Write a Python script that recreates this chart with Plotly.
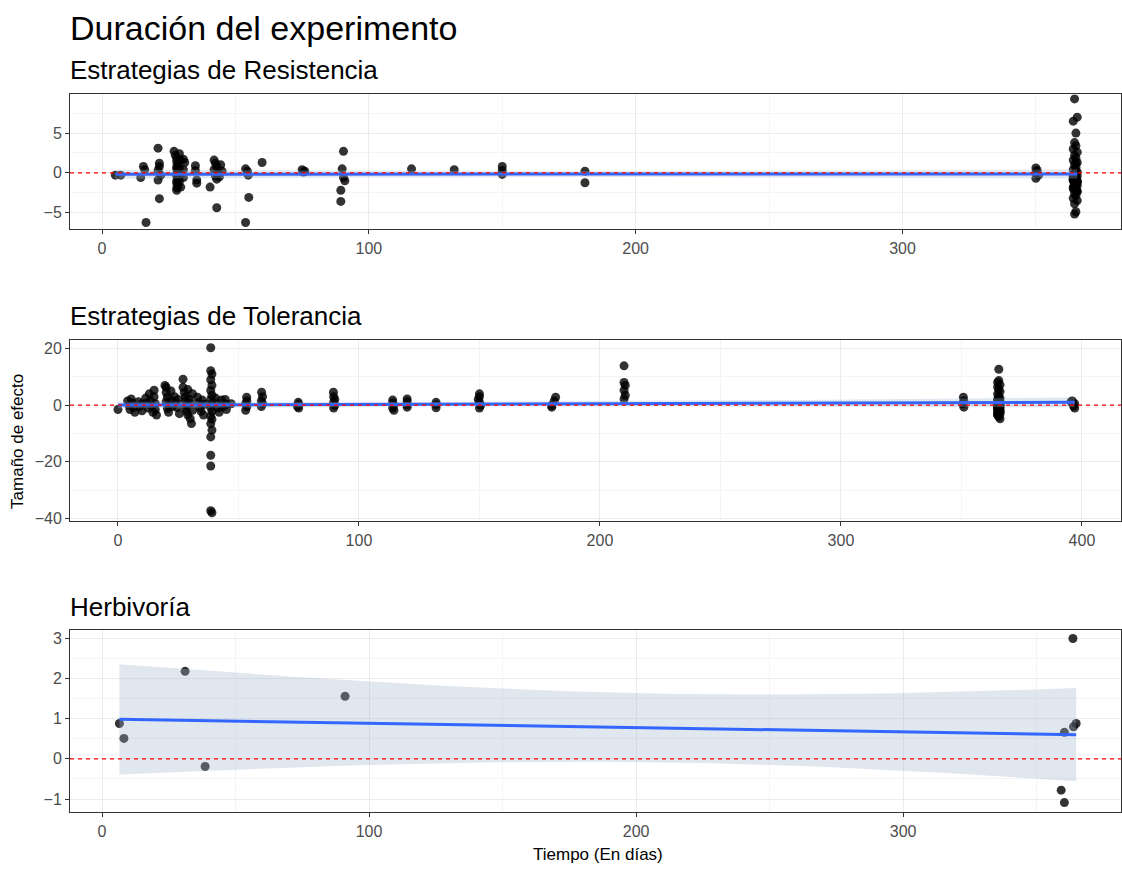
import numpy as np
import plotly.graph_objects as go

# ---------------- data ----------------
res_dias = [5, 7,
    14.5, 15.5, 16, 16.5,
    21, 21.5, 21.5, 21, 21, 21.5, 22,
    27, 27.5, 28, 28, 28.5, 28, 28, 28.5, 28, 28, 28.5, 28, 28, 28.5, 28, 28,
    29, 29.5, 29, 29.5, 29, 29.5,
    30.5, 31, 30.5, 30.5,
    35, 35, 35.5, 35.5,
    40.5, 42, 42.5, 43, 42, 43.5, 42.5, 43, 44.5, 45, 44, 43,
    53.8, 53.8, 54.8, 55, 54.5,
    60,
    75, 76, 75.5,
    90.5, 90, 90.5, 91, 89.5, 89.5,
    116, 132, 150, 150, 150, 181, 181,
    350, 350.5, 350, 351, 350,
    364.5, 365.5, 364, 365, 364.5, 365, 364, 365.5, 364.5, 365, 364, 365.5, 364.5, 365, 364,
    365.5, 364.5, 365, 364, 365.5, 364.5, 365, 364, 365.5, 364.5, 365, 364, 365.5, 364.5,
    365, 364.5, 365, 364, 365,
    364, 365, 365.5, 364.5, 364, 365, 365.5, 364.5, 364, 365, 365.5, 364.5, 364, 365,
    365.5, 364.5, 364, 365, 365.5, 364.5]
res_efecto = [-0.3, -0.3,
    -0.6, 0.8, 0.4, -6.25,
    3.1, 1.2, 0.8, 0.3, -0.9, -3.25, -0.3,
    2.7, 2.2, 1.8, 1.4, 1.1, 0.8, 0.5, 0.2, -0.1, -0.4, -0.7, -1.0, -1.3, -1.6, -1.9, -2.2,
    2.4, 1.6, 0.6, -0.2, -1.1, -1.8,
    1.7, 1.3, 0.4, -0.6,
    0.9, 0.3, -0.9, -1.3,
    -1.8, 1.6, 1.2, 0.8, 0.4, 0.0, -0.4, -0.8, 1.0, 0.2, -0.5, -4.4,
    -6.25, 0.5, -0.3, -3.1, 0.2,
    1.3,
    0.4, 0.2, 0.1,
    2.7, 0.5, -0.6, -1.0, -2.2, -3.6,
    0.5, 0.4, 0.8, 0.3, -0.2, 0.2, -1.25,
    0.6, 0.3, 0.0, -0.3, -0.7,
    9.3, 7.0, 6.5, 5.0, 3.8, 3.4, 3.0, 2.6, 2.2, 1.9, 1.6, 1.3, 1.0, 0.7, 0.4,
    0.1, -0.2, -0.5, -0.8, -1.1, -1.4, -1.7, -2.0, -2.3, -2.6, -2.9, -3.2, -3.5, -3.9,
    -4.9, -5.2, 0.2, -0.3, 1.2,
    -0.6, -0.9, -1.2, -1.5, -1.8, -2.1, -0.4, -0.7, -1.0, -1.3, -1.6, -0.2, -0.5, -0.8,
    -1.1, -1.4, -0.9, -0.6, -2.4, -1.9]

tol_dias = [0,
    4, 4.5, 5, 5.5, 6, 6.5, 7,
    8.5, 9, 10, 10,
    11.5, 12, 12.5, 13, 13.5, 14, 14.5, 15, 15, 15.5, 15.5, 16,
    19.5, 20, 20, 20.5, 20, 21, 20.5, 21, 22, 22, 22.5,
    23.5, 24, 24.5, 25, 25.5,
    27, 27, 27.5, 28, 28, 28.5, 28, 28.5, 29, 29, 29.5, 30, 30.5, 30, 31, 31,
    33, 33.5, 34, 34.5, 35, 35.5, 36,
    38.5, 38.5, 39, 38.5, 39, 38.5, 39, 38.5, 39, 38.5, 39, 38.5, 39, 38.5, 39, 38.5, 38.5, 38.5, 38.5, 39,
    40.5, 41, 41.5, 42, 43, 43.5, 44.5, 45, 45, 47,
    53.4, 53.5, 53, 53.5, 53,
    59.6, 60, 59.5, 60, 59.5,
    74.8, 75, 74.5, 75,
    89.4, 89.5, 90, 89.5, 90, 89.5,
    114, 114, 114.5, 114, 114.5,
    120, 120, 120, 120,
    132, 132, 132,
    150, 150, 149.5, 150, 150.5, 150,
    180, 180, 181.6, 181,
    210, 210, 210.5, 210, 210.5, 210,
    350.8, 351, 350.5, 351,
    365.5, 365.5, 365, 366, 365, 365.5, 366, 365, 365.5, 366, 365, 365.5, 366, 365, 365.5, 366,
    365, 365.5, 366, 365, 366, 365.5, 365,
    365, 365.5, 366, 365, 365.5, 366, 365, 365.5, 366, 365, 365.5, 366, 365, 365.5, 366,
    365, 365.5, 366, 365, 365.5,
    396, 397, 396.5, 397, 396, 395.5]
tol_efecto = [-1.5,
    1.5, 0.0, -1.5, 2.2, 0.8, -0.8, -2.5,
    1.2, -0.5, 0.5, -2.0,
    2.5, 0.8, -1.0, 4.0, 1.5, -0.3, -2.5, 5.3, 3.0, 0.5, -1.5, -3.5,
    7.0, 6.3, 4.5, 2.8, 1.2, 0.0, -1.2, -2.5, 5.0, 1.8, -0.5,
    3.0, 1.0, -0.8, 2.0, -3.0,
    9.2, 6.3, 4.5, 3.0, 1.5, 0.2, -1.0, -2.2, -3.5, 5.5, 2.2, -4.8, -6.5, 0.8, 4.0, -1.8,
    2.8, 1.0, -0.8, -2.2, 1.8, -3.5, 0.3,
    20.3, 12.2, 11.0, 9.0, 7.0, 5.2, 3.5, 2.0, 0.5, -0.8, -2.2, -3.8, -5.0, -6.5, -8.8, -11.2, -17.7, -21.5, -37.3, -38.0,
    2.5, 0.8, -1.0, -2.5, 1.8, -0.5, 2.0, 0.3, -1.5, 0.5,
    2.8, 1.5, 0.5, -0.5, -1.8,
    4.6, 3.0, 1.5, 0.5, -0.5,
    1.0, 0.3, -0.5, -1.0,
    4.6, 3.0, 2.0, 1.0, 0.0, -1.0,
    1.8, 0.8, 0.0, -1.0, -1.8,
    2.2, 1.2, 0.2, -0.7,
    1.0, 0.2, -0.9,
    4.0, 3.0, 2.0, 1.0, 0.0, -1.0,
    -0.7, 0.0, 2.8, 1.5,
    13.9, 8.0, 7.0, 5.3, 3.5, 2.2,
    2.8, 1.5, 0.5, -0.7,
    12.7, 8.7, 8.0, 7.2, 6.4, 5.6, 4.8, 4.0, 3.2, 2.4, 1.6, 0.8, 0.0, -0.8, -1.6, -2.4,
    -3.2, -4.0, -4.8, 0.4, 1.2, -0.4, 2.0,
    -0.5, -1.0, -1.5, -2.0, -2.5, -3.0, -3.5, -0.2, -0.7, -1.2, -1.8, -2.2, -2.8, -3.8, 0.2,
    -0.3, -0.9, 0.6, -0.6, -1.1,
    1.5, 0.5, -0.3, -1.0, 0.8, 1.2]

her_dias = [6.5, 8.2, 31.1, 38.6, 91, 363.6, 360.4, 363.8, 364.8, 359.2, 360.4]
her_efecto = [0.88, 0.51, 2.18, -0.19, 1.56, 3.0, 0.66, 0.80, 0.88, -0.78, -1.09]

titulo = "Duración del experimento"
subtitulos = ["Estrategias de Resistencia", "Estrategias de Tolerancia", "Herbivoría"]
x_ticks = [[0, 100, 200, 300], [0, 100, 200, 300, 400], [0, 100, 200, 300]]
y_ticks = [[-5, 0, 5], [-40, -20, 0, 20], [-1, 0, 1, 2, 3]]


# ---------------- helpers ----------------
def t_quantile(df, z=1.959964):
    return (z + (z**3 + z) / (4 * df)
            + (5 * z**5 + 16 * z**3 + 3 * z) / (96 * df**2)
            + (3 * z**7 + 19 * z**5 + 17 * z**3 - 15 * z) / (384 * df**3))


def lm_smooth(x, y, n=80):
    x = np.asarray(x, float)
    y = np.asarray(y, float)
    N = len(x)
    xb, yb = x.mean(), y.mean()
    sxx = ((x - xb) ** 2).sum()
    b = ((x - xb) * (y - yb)).sum() / sxx
    a = yb - b * xb
    res = y - (a + b * x)
    s = np.sqrt((res ** 2).sum() / (N - 2))
    xg = np.linspace(x.min(), x.max(), n)
    fit = a + b * xg
    se = s * np.sqrt(1 / N + (xg - xb) ** 2 / sxx)
    tq = t_quantile(N - 2)
    return xg, fit, fit - tq * se, fit + tq * se


W, H = 1122, 871
FONT = "Liberation Sans, Arial, sans-serif"
x_left, x_right = 70, 1121
panels_px = [(95, 231), (342, 525), (634, 818)]
x_ranges = [[-12.0, 381.9], [-19.9, 416.2], [-12.0, 381.6]]
y_ranges = [[-7.125, 9.875], [-41.05, 23.16], [-1.333, 3.22]]
x_minor = [50, 50, 50]
y_minor = [2.5, 10, 0.5]

data = [(res_dias, res_efecto), (tol_dias, tol_efecto), (her_dias, her_efecto)]

fig = go.Figure()
for i, (xs, ys) in enumerate(data):
    k = "" if i == 0 else str(i + 1)
    xa, ya = "x" + k, "y" + k
    fig.add_trace(go.Scatter(x=xs, y=ys, mode="markers", xaxis=xa, yaxis=ya,
                             marker=dict(size=9, color="rgba(0,0,0,0.8)"),
                             hoverinfo="x+y", showlegend=False))
    xg, fit, lo, hi = lm_smooth(xs, ys)
    fig.add_trace(go.Scatter(x=np.concatenate([xg, xg[::-1]]),
                             y=np.concatenate([hi, lo[::-1]]),
                             xaxis=xa, yaxis=ya, fill="toself", mode="lines",
                             line=dict(width=0), fillcolor="rgba(160,180,205,0.32)",
                             hoverinfo="skip", showlegend=False))
    fig.add_trace(go.Scatter(x=xg, y=fit, mode="lines", xaxis=xa, yaxis=ya,
                             line=dict(color="#3366FF", width=3),
                             hoverinfo="skip", showlegend=False))
    fig.add_trace(go.Scatter(x=x_ranges[i], y=[0, 0], mode="lines", xaxis=xa, yaxis=ya,
                             line=dict(color="#FF0000", width=1.3, dash="4px,4px"),
                             hoverinfo="skip", showlegend=False))

    top, bot = panels_px[i]
    axis_common = dict(showline=True, linecolor="#333333", linewidth=1, mirror=True,
                       ticks="outside", ticklen=4, tickcolor="#333333", tickwidth=1,
                       gridcolor="#EBEBEB", gridwidth=1, zeroline=False,
                       tickfont=dict(family=FONT, size=16, color="#4D4D4D"))
    fig.update_layout(**{
        "xaxis" + k: dict(axis_common, domain=[x_left / W, x_right / W],
                          range=x_ranges[i], tickvals=x_ticks[i], anchor=ya,
                          minor=dict(dtick=x_minor[i], tick0=0, showgrid=True,
                                     gridcolor="#F4F4F4", ticks="")),
        "yaxis" + k: dict(axis_common, domain=[1 - bot / H, 1 - top / H],
                          range=y_ranges[i], tickvals=y_ticks[i], anchor=xa,
                          minor=dict(dtick=y_minor[i], tick0=0, showgrid=True,
                                     gridcolor="#F4F4F4", ticks="")),
    })

annots = [
    dict(text=titulo, x=68 / W, y=1 - 28 / H, font=dict(size=34, color="black")),
    dict(text=subtitulos[0], x=68 / W, y=1 - 70 / H, font=dict(size=26, color="black")),
    dict(text=subtitulos[1], x=68 / W, y=1 - 318 / H, font=dict(size=26, color="black")),
    dict(text=subtitulos[2], x=68 / W, y=1 - 611 / H, font=dict(size=26, color="black")),
]
for a in annots:
    a.update(xref="paper", yref="paper", xanchor="left", yanchor="middle", showarrow=False)
    a["font"]["family"] = FONT
    fig.add_annotation(**a)
fig.add_annotation(text="Tamaño de efecto", x=18 / W, y=1 - 445 / H, xref="paper", yref="paper",
                   textangle=-90, showarrow=False, xanchor="center", yanchor="middle",
                   font=dict(family=FONT, size=17, color="black"))
fig.add_annotation(text="Tiempo (En días)", x=598 / W, y=1 - 860 / H, xref="paper", yref="paper",
                   showarrow=False, xanchor="center", yanchor="middle",
                   font=dict(family=FONT, size=17, color="black"))

fig.update_layout(width=W, height=H, margin=dict(l=0, r=0, t=0, b=0),
                  paper_bgcolor="white", plot_bgcolor="white",
                  font=dict(family=FONT))
fig.write_html("out.html")
